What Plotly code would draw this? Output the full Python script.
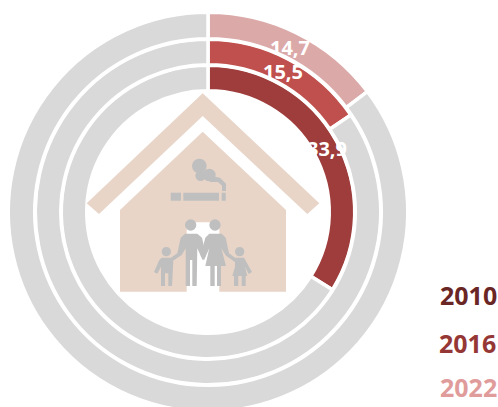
import plotly.graph_objects as go

years = ["2010", "2016", "2022"]
values = [33.9, 15.5, 14.7]
labels_txt = ["33,9", "15,5", "14,7"]
ring_colors = ["#9E3D3B", "#C0504D", "#DCA9A9"]
legend_colors = ["#692625", "#953735", "#DF9C9B"]
rest_color = "#D9D9D9"
W, H = 498, 430  # canvas runs past the 407px window: the outer ring is cut by the bottom edge
CX, CY = 208, 212
ring_radii = [(123, 145), (149, 171), (175, 198)]
label_pos = [(327, 148), (283, 71), (290, 47)]
legend_pos = [(468, 295), (467, 343), (468, 387)]
GAP = 3.5

fig = go.Figure()
for v, c, (r0, r1), y in zip(values, ring_colors, ring_radii, years):
    R1 = r1 + GAP / 2
    R0 = r0 - GAP / 2
    fig.add_trace(go.Pie(
        values=[v, 100 - v], labels=[y, "rest"], sort=False, direction="clockwise",
        rotation=0, hole=R0 / R1, textinfo="none", hoverinfo="skip", showlegend=False,
        marker=dict(colors=[c, rest_color], line=dict(color="white", width=GAP)),
        domain=dict(x=[(CX - R1) / W, (CX + R1) / W],
                    y=[(H - CY - R1) / H, (H - CY + R1) / H]),
    ))

def Z(x, y, ox=80, oy=85):
    return f"{ox + x / 3:.1f},{oy + y / 3:.1f}"

def poly(pts, ox=80, oy=85):
    return "M" + " L".join(Z(x, y, ox, oy) for x, y in pts) + " Z"

ICON = "#BFBFBF"
TAN = "#E8D5C8"
shapes = []
def fill(path, color):
    shapes.append(dict(type="path", path=path, fillcolor=color, line=dict(width=0), xref="x", yref="y"))
def circ(x, y, r, color=ICON):
    cx, cy, rr = 80 + x / 3, 85 + y / 3, r / 3
    shapes.append(dict(type="circle", x0=cx - rr, x1=cx + rr, y0=cy - rr, y1=cy + rr,
                       fillcolor=color, line=dict(width=0), xref="x", yref="y"))

fill(poly([(368, 25), (718, 355), (682, 387), (368, 93), (57, 387), (20, 355)]), TAN)
fill(poly([(368, 140), (618, 375), (618, 620), (418, 620), (418, 412), (320, 412),
           (320, 620), (120, 620), (120, 375)]), TAN)
# cigarette and smoke
fill(poly([(272, 323), (303, 323), (303, 347), (272, 347)]), ICON)
fill(poly([(310, 323), (417, 323), (417, 347), (310, 347)]), ICON)
fill(poly([(425, 323), (437, 323), (437, 347), (425, 347)]), ICON)
circ(358, 243, 22); circ(388, 270, 19); circ(362, 272, 16)
fill(poly([(390, 272), (420, 278), (438, 296), (438, 318), (426, 318), (426, 302), (414, 291), (390, 291)]), ICON)
# family
circ(332, 420, 17); circ(405, 420, 17); circ(259, 500, 14); circ(479, 500, 14)
# man
fill(poly([(315, 446), (352, 446), (366, 458), (378, 512), (368, 526), (352, 490), (350, 603), (337, 603),
           (337, 525), (330, 525), (330, 603), (317, 603), (317, 490), (305, 510), (272, 532), (268, 522), (292, 505), (302, 458)]), ICON)
# woman
fill(poly([(388, 446), (425, 446), (437, 458), (447, 505), (470, 522), (466, 532), (438, 512), (424, 490), (438, 543),
           (423, 543), (423, 603), (411, 603), (411, 543), (404, 543), (404, 603), (391, 603), (391, 543), (376, 543), (388, 490), (372, 526), (362, 512), (376, 458)]), ICON)
# boy
fill(poly([(245, 518), (272, 518), (280, 530), (276, 603), (265, 603), (265, 565), (255, 565), (255, 603),
           (243, 603), (243, 545), (232, 566), (222, 561), (238, 525)]), ICON)
# girl
fill(poly([(465, 518), (492, 518), (516, 561), (506, 567), (495, 545), (502, 573), (497, 573), (497, 603), (485, 603), (485, 573),
           (475, 573), (475, 603), (462, 603), (462, 573), (457, 573), (465, 545)]), ICON)

fig.update_layout(
    width=W, height=H, margin=dict(l=0, r=0, t=0, b=0),
    paper_bgcolor="white", plot_bgcolor="rgba(0,0,0,0)", showlegend=False,
    xaxis=dict(range=[0, W], visible=False, fixedrange=True),
    yaxis=dict(range=[H, 0], visible=False, fixedrange=True),
    shapes=shapes,
)
for t, (x, y) in zip(labels_txt, label_pos):
    fig.add_annotation(x=x, y=y, xref="x", yref="y", text=t, showarrow=False,
                       font=dict(family="Open Sans", size=20, color="white", weight=700))
for t, c, (x, y) in zip(years, legend_colors, legend_pos):
    fig.add_annotation(x=x, y=y, xref="x", yref="y", text=t, showarrow=False,
                       font=dict(family="Open Sans", size=25, color=c, weight=700))

fig.write_html("out.html", config={"displayModeBar": False},
               post_script="document.body.style.margin='0';document.documentElement.style.overflow='hidden';document.body.style.overflow='hidden';")
